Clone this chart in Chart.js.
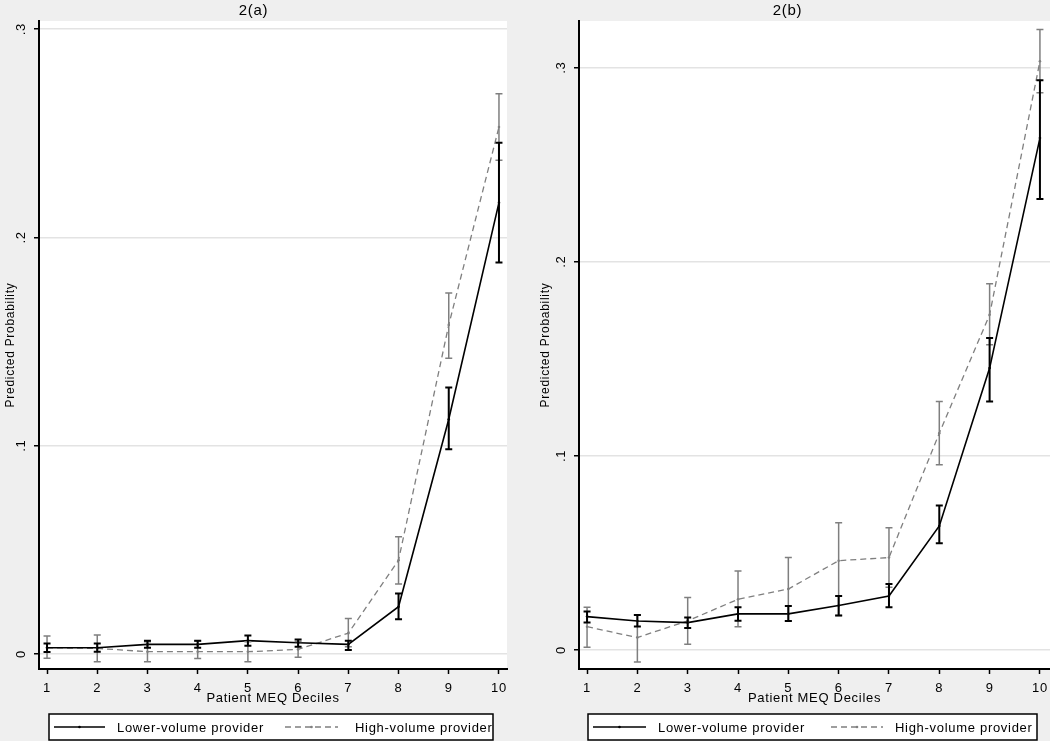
<!DOCTYPE html>
<html>
<head>
<meta charset="utf-8">
<script src="https://cdn.jsdelivr.net/npm/chart.js@4.4.0/dist/chart.umd.min.js"></script>
<style>
  body { margin: 0; background: #efefef; }
  .row { display: flex; width: 1050px; height: 741px; }
  canvas { display: block; }
</style>
</head>
<body>
<div class="row">
  <canvas id="chartA" width="525" height="741"></canvas>
  <canvas id="chartB" width="525" height="741"></canvas>
</div>
<script>
const deciles = [1, 2, 3, 4, 5, 6, 7, 8, 9, 10];
const yTickValues = [0, 0.1, 0.2, 0.3];
const yTickLabels = ['0', '.1', '.2', '.3'];
const seriesNames = ['Lower-volume provider', 'High-volume provider'];

// panel 2(a)
const lowerA   = [0.0030, 0.0030, 0.0046, 0.0046, 0.0064, 0.0054, 0.0046, 0.0227, 0.1127, 0.2167];
const lowerALo = [0.0010, 0.0011, 0.0030, 0.0030, 0.0040, 0.0035, 0.0019, 0.0167, 0.0983, 0.1879];
const lowerAHi = [0.0051, 0.0051, 0.0064, 0.0064, 0.0089, 0.0070, 0.0064, 0.0290, 0.1280, 0.2455];
const highA    = [0.0030, 0.0027, 0.0011, 0.0011, 0.0011, 0.0022, 0.0100, 0.0450, 0.1580, 0.2530];
const highALo  = [-0.0020, -0.0037, -0.0037, -0.0021, -0.0037, -0.0015, 0.0035, 0.0336, 0.1420, 0.2370];
const highAHi  = [0.0086, 0.0091, 0.0059, 0.0062, 0.0059, 0.0060, 0.0171, 0.0563, 0.1733, 0.2690];

// panel 2(b)
const lowerB   = [0.0172, 0.0149, 0.0141, 0.0186, 0.0186, 0.0229, 0.0278, 0.0639, 0.1452, 0.2637];
const lowerBLo = [0.0141, 0.0121, 0.0113, 0.0150, 0.0149, 0.0177, 0.0220, 0.0550, 0.1280, 0.2323];
const lowerBHi = [0.0198, 0.0180, 0.0167, 0.0220, 0.0227, 0.0278, 0.0340, 0.0744, 0.1607, 0.2935];
const highB    = [0.0120, 0.0064, 0.0150, 0.0261, 0.0314, 0.0460, 0.0476, 0.1117, 0.1727, 0.3033];
const highBLo  = [0.0014, -0.0062, 0.0029, 0.0120, 0.0149, 0.0177, 0.0323, 0.0954, 0.1572, 0.2870];
const highBHi  = [0.0220, 0.0180, 0.0270, 0.0407, 0.0476, 0.0656, 0.0629, 0.1280, 0.1887, 0.3196];

const FONT = '"Liberation Sans", Arial, sans-serif';
const GREY = '#7f7f7f';

const panelBg = {
  id: 'panelBg',
  beforeDraw(chart) {
    const { ctx, chartArea: a } = chart;
    ctx.save();
    ctx.fillStyle = '#efefef';
    ctx.fillRect(0, 0, chart.width, chart.height);
    ctx.fillStyle = '#ffffff';
    ctx.fillRect(a.left, a.top, a.right - a.left, a.bottom - a.top);
    ctx.restore();
    ctx.letterSpacing = '0.7px';
  }
};

const errorBars = {
  id: 'errorBars',
  afterDatasetsDraw(chart) {
    const { ctx, scales: { x, y } } = chart;
    const sets = chart.data.datasets;
    for (let i = sets.length - 1; i >= 0; i--) {
      const d = sets[i];
      ctx.save();
      ctx.strokeStyle = d.borderColor;
      ctx.lineWidth = d.capWidth;
      d.data.forEach((p, j) => {
        const px = x.getPixelForValue(p.x);
        const top = y.getPixelForValue(d.hi[j]);
        const bot = y.getPixelForValue(d.lo[j]);
        ctx.beginPath();
        ctx.moveTo(px, top); ctx.lineTo(px, bot);
        ctx.moveTo(px - 3.5, top); ctx.lineTo(px + 3.5, top);
        ctx.moveTo(px - 3.5, bot); ctx.lineTo(px + 3.5, bot);
        ctx.stroke();
      });
      ctx.restore();
    }
  }
};

const yLabels = {
  id: 'yLabels',
  afterDraw(chart) {
    const { ctx, chartArea: a, scales: { y } } = chart;
    ctx.save();
    ctx.font = '13px ' + FONT;
    ctx.fillStyle = '#000';
    ctx.textAlign = 'center';
    ctx.textBaseline = 'middle';
    yTickValues.forEach((v, i) => {
      ctx.save();
      ctx.translate(a.left - 18, y.getPixelForValue(v));
      ctx.rotate(-Math.PI / 2);
      ctx.fillText(yTickLabels[i], 0, 0);
      ctx.restore();
    });
    ctx.restore();
  }
};

const boxLegend = {
  id: 'boxLegend',
  afterDraw(chart, args, opts) {
    const { ctx } = chart;
    const L = opts.box;
    ctx.save();
    ctx.fillStyle = '#fff';
    ctx.fillRect(L.x, L.y, L.w, L.h);
    ctx.strokeStyle = '#000';
    ctx.lineWidth = 1.5;
    ctx.strokeRect(L.x, L.y, L.w, L.h);
    const cy = L.y + L.h / 2;
    ctx.font = '13px ' + FONT;
    ctx.fillStyle = '#000';
    ctx.textBaseline = 'middle';
    chart.data.datasets.forEach((d, i) => {
      const it = opts.items[i];
      ctx.strokeStyle = d.borderColor;
      ctx.lineWidth = d.borderWidth;
      ctx.setLineDash(d.borderDash || []);
      ctx.beginPath();
      ctx.moveTo(it.x0, cy); ctx.lineTo(it.x1, cy);
      ctx.stroke();
      ctx.setLineDash([]);
      ctx.fillStyle = d.borderColor;
      ctx.beginPath();
      ctx.arc((it.x0 + it.x1) / 2, cy, 1.3, 0, Math.PI * 2);
      ctx.fill();
      ctx.fillStyle = '#000';
      ctx.fillText(d.label, it.tx, cy + 1);
    });
    ctx.restore();
  }
};

function toPoints(vals) {
  return deciles.map((d, i) => ({ x: d, y: vals[i] }));
}

function makePanel(id, p) {
  return new Chart(document.getElementById(id), {
    type: 'line',
    data: {
      datasets: [
        {
          label: seriesNames[0],
          data: toPoints(p.lower),
          lo: p.lowerLo, hi: p.lowerHi,
          borderColor: '#000', backgroundColor: '#000',
          borderWidth: 1.6, capWidth: 2,
          pointRadius: 1.3, pointBorderWidth: 0, tension: 0
        },
        {
          label: seriesNames[1],
          data: toPoints(p.high),
          lo: p.highLo, hi: p.highHi,
          borderColor: GREY, backgroundColor: GREY,
          borderWidth: 1.3, capWidth: 1.5, borderDash: [6, 4],
          pointRadius: 1.3, pointBorderWidth: 0, tension: 0
        }
      ]
    },
    options: {
      responsive: false,
      animation: false,
      devicePixelRatio: 1,
      layout: { autoPadding: false, padding: { left: 0, right: p.rightPad, top: 0, bottom: 35 } },
      plugins: {
        legend: { display: false },
        tooltip: { enabled: false },
        title: {
          display: true, text: p.title, color: '#000',
          font: { family: FONT, size: 15, weight: 'normal', lineHeight: 1.2 },
          padding: { top: 2, bottom: 1 }
        },
        boxLegend: p.legend
      },
      scales: {
        x: {
          type: 'linear', min: p.xMin, max: p.xMax,
          afterBuildTicks: s => { s.ticks = deciles.map(v => ({ value: v })); },
          afterFit: s => { s.height = 37; s.paddingLeft = 0; s.paddingRight = 0; },
          grid: { drawOnChartArea: false, drawTicks: true, tickLength: 5, tickColor: '#000', tickWidth: 1.5 },
          border: { color: '#000', width: 2 },
          ticks: { color: '#000', padding: 7, maxRotation: 0, font: { family: FONT, size: 13 } },
          title: {
            display: true, text: 'Patient MEQ Deciles', color: '#000',
            font: { family: FONT, size: 13 }, padding: 0
          }
        },
        y: {
          type: 'linear', min: p.yMin, max: p.yMax,
          afterBuildTicks: s => { s.ticks = yTickValues.map(v => ({ value: v })); },
          afterFit: s => { s.width = p.yAxisWidth; },
          grid: { color: '#e3e3e3', lineWidth: 1.5, drawTicks: true, tickLength: 5, tickColor: '#000', tickWidth: 1.5 },
          border: { color: '#000', width: 2 },
          ticks: { display: false },
          title: {
            display: true, text: 'Predicted Probability', color: '#000',
            font: { family: FONT, size: 12 }, padding: { top: p.yTitlePad, bottom: 0 }
          }
        }
      }
    },
    plugins: [panelBg, errorBars, yLabels, boxLegend]
  });
}

makePanel('chartA', {
  title: '2(a)',
  lower: lowerA, lowerLo: lowerALo, lowerHi: lowerAHi,
  high: highA, highLo: highALo, highHi: highAHi,
  xMin: 0.84, xMax: 10.16, yMin: -0.0072, yMax: 0.3039,
  yAxisWidth: 39, rightPad: 18, yTitlePad: 3,
  legend: {
    box: { x: 49, y: 714, w: 444, h: 26 },
    items: [{ x0: 54, x1: 105, tx: 117 }, { x0: 285, x1: 338, tx: 355 }]
  }
});

makePanel('chartB', {
  title: '2(b)',
  lower: lowerB, lowerLo: lowerBLo, lowerHi: lowerBHi,
  high: highB, highLo: highBLo, highHi: highBHi,
  xMin: 0.84, xMax: 10.2, yMin: -0.0098, yMax: 0.324,
  yAxisWidth: 54, rightPad: 0, yTitlePad: 13,
  legend: {
    box: { x: 63, y: 714, w: 449, h: 26 },
    items: [{ x0: 68, x1: 121, tx: 133 }, { x0: 306, x1: 358, tx: 370 }]
  }
});
</script>
</body>
</html>
